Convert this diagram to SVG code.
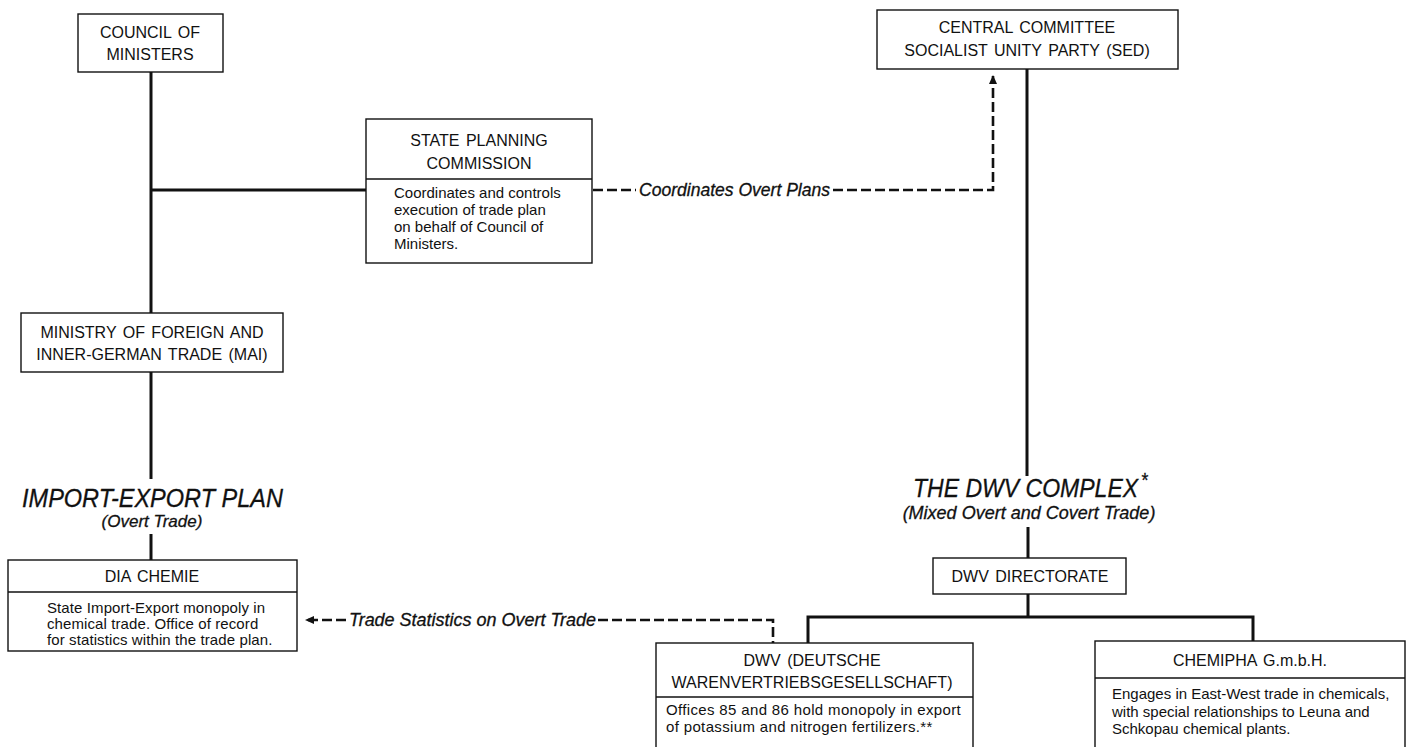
<svg xmlns="http://www.w3.org/2000/svg" width="1416" height="747" viewBox="0 0 1416 747">
<style>
.box{fill:#fff;stroke:#111;stroke-width:1.4}
.div{stroke:#111;stroke-width:1.4}
.t{font-family:"Liberation Sans",Arial,sans-serif;font-size:16px;fill:#111;text-anchor:middle;word-spacing:2px}
.d{font-family:"Liberation Sans",Arial,sans-serif;font-size:15px;fill:#111}
.it{font-family:"Liberation Sans",Arial,sans-serif;font-style:italic;fill:#111;stroke:#111;stroke-width:0.3}
.solid{stroke:#111;stroke-width:3;fill:none}
.dash{stroke:#111;stroke-width:2.6;fill:none;stroke-dasharray:10 4}
</style>
<defs>
<marker id="ah" markerWidth="10" markerHeight="10" refX="8" refY="5" orient="auto" markerUnits="userSpaceOnUse">
<path d="M0,1 L9,5 L0,9 z" fill="#111"/>
</marker>
</defs>
<rect width="1416" height="747" fill="#fff"/>
<g id="connectors">
<path class="solid" d="M151,72 V313"/>
<path class="solid" d="M151,190 H366"/>
<path class="solid" d="M151,372 V479"/>
<path class="solid" d="M151,534 V560"/>
<path class="solid" d="M1027,69 V476"/>
<path class="solid" d="M1028,527 V558"/>
<path class="solid" d="M1028,594 V617"/>
<path class="solid" d="M808,643 V617 H1253 V641"/>
<path class="dash" d="M593,190 H636"/>
<path class="dash" d="M833,190 H993 V76" marker-end="url(#ah)"/>
<path class="dash" d="M346,620 H306" marker-end="url(#ah)"/>
<path class="dash" d="M598,620 H773 V643"/>
<text class="it" x="639" y="196" font-size="17.5" textLength="191" lengthAdjust="spacingAndGlyphs">Coordinates Overt Plans</text>
<text class="it" x="349" y="626" font-size="18" textLength="247" lengthAdjust="spacingAndGlyphs">Trade Statistics on Overt Trade</text>
</g>
<g id="council">
<rect class="box" x="78" y="14" width="145" height="58"/>
<text class="t" x="150" y="38">COUNCIL OF</text>
<text class="t" x="150" y="60">MINISTERS</text>
</g>
<g id="central-committee">
<rect class="box" x="877" y="10" width="301" height="59"/>
<text class="t" x="1027" y="33">CENTRAL COMMITTEE</text>
<text class="t" x="1027" y="56">SOCIALIST UNITY PARTY (SED)</text>
</g>
<g id="state-planning">
<rect class="box" x="366" y="119" width="226" height="144"/>
<line class="div" x1="366" y1="179" x2="592" y2="179"/>
<text class="t" x="479" y="146">STATE PLANNING</text>
<text class="t" x="479" y="169">COMMISSION</text>
<text class="d" x="394" y="198">Coordinates and controls</text>
<text class="d" x="394" y="215">execution of trade plan</text>
<text class="d" x="394" y="232">on behalf of Council of</text>
<text class="d" x="394" y="249">Ministers.</text>
</g>
<g id="ministry">
<rect class="box" x="21" y="313" width="262" height="59"/>
<text class="t" x="152" y="338">MINISTRY OF FOREIGN AND</text>
<text class="t" x="152" y="360">INNER-GERMAN TRADE (MAI)</text>
</g>
<g id="import-export-plan">
<text class="it" x="22" y="507" font-size="26" textLength="261" lengthAdjust="spacingAndGlyphs">IMPORT-EXPORT PLAN</text>
<text class="it" x="152" y="527" font-size="17" text-anchor="middle">(Overt Trade)</text>
</g>
<g id="dia-chemie">
<rect class="box" x="8" y="560" width="289" height="91"/>
<line class="div" x1="8" y1="592" x2="297" y2="592"/>
<text class="t" x="152" y="582" font-size="17">DIA CHEMIE</text>
<text class="d" x="47" y="613" font-size="14" letter-spacing="0.1">State Import-Export monopoly in</text>
<text class="d" x="47" y="629" font-size="14" letter-spacing="0.1">chemical trade.  Office of record</text>
<text class="d" x="47" y="645" font-size="14" letter-spacing="0.1">for statistics within the trade plan.</text>
</g>
<g id="dwv-complex">
<text class="it" font-size="26" transform="translate(913,497) scale(0.886,1)">THE DWV COMPLEX<tspan font-size="20" dx="3" dy="-10">*</tspan></text>
<text class="it" x="1029" y="519" font-size="18" text-anchor="middle">(Mixed Overt and Covert Trade)</text>
</g>
<g id="dwv-directorate">
<rect class="box" x="933" y="558" width="193" height="36"/>
<text class="t" x="1030" y="582">DWV DIRECTORATE</text>
</g>
<g id="dwv">
<rect class="box" x="656" y="643" width="317" height="110"/>
<line class="div" x1="656" y1="697" x2="973" y2="697"/>
<text class="t" x="812" y="666">DWV (DEUTSCHE</text>
<text class="t" x="812" y="688" font-size="16.4">WARENVERTRIEBSGESELLSCHAFT)</text>
<text class="d" x="666" y="715" letter-spacing="0.35">Offices 85 and 86 hold monopoly in export</text>
<text class="d" x="666" y="732" letter-spacing="0.35">of potassium and nitrogen fertilizers.**</text>
</g>
<g id="chemipha">
<rect class="box" x="1095" y="641" width="310" height="112"/>
<line class="div" x1="1095" y1="678" x2="1405" y2="678"/>
<text class="t" x="1250" y="666">CHEMIPHA G.m.b.H.</text>
<text class="d" x="1112" y="699">Engages in East-West trade in chemicals,</text>
<text class="d" x="1112" y="717">with special relationships to Leuna and</text>
<text class="d" x="1112" y="734">Schkopau chemical plants.</text>
</g>
</svg>
